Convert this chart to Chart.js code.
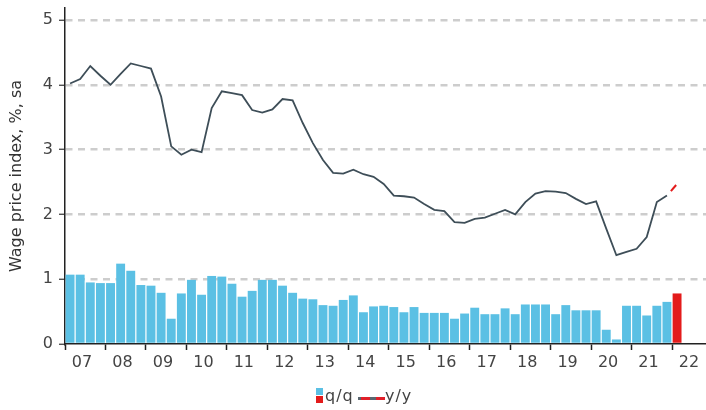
<!DOCTYPE html>
<html>
<head>
<meta charset="utf-8">
<script src="https://cdn.jsdelivr.net/npm/chart.js@4/dist/chart.umd.min.js"></script>
<style>
  body{margin:0;background:#fff;}
  #wrap{position:relative;width:706px;height:410px;}
  #legend{position:absolute;left:316px;top:388px;font:16px "DejaVu Sans",sans-serif;color:#444;letter-spacing:1px;line-height:16px;white-space:nowrap;}
  #legend .sq{position:absolute;left:0;top:0;width:7px;height:16px;}
  #legend .sq i{display:block;width:7px;height:7px;}
  #legend .t1{position:absolute;left:9px;top:0;}
  #legend .ln{position:absolute;left:42px;top:9px;width:27px;height:3px;background:#5a6770;}
  #legend .ln i{position:absolute;top:0;height:3px;width:9px;background:#e0202a;}
  #legend .t2{position:absolute;left:69px;top:0;}
</style>
</head>
<body>
<div id="wrap">
  <canvas id="c" width="706" height="410"></canvas>
  <div id="legend">
    <span class="sq"><i style="background:#5bc0e4"></i><i style="background:#e31b1b;margin-top:1px"></i></span>
    <span class="t1">q/q</span>
    <span class="ln"><i style="left:3px"></i><i style="left:18px"></i></span>
    <span class="t2">y/y</span>
  </div>
</div>
<script>
// quarters 2007Q1 .. 2021Q4, latest (red) 2022Q1
const startYear = 2007;
const tickYears = [2007,2008,2009,2010,2011,2012,2013,2014,2015,2016,2017,2018,2019,2020,2021,2022];
const yTicks = [0,1,2,3,4,5];

// wage price index, % q/q
const qq = [1.07,1.07,0.95,0.94, 0.94,1.24,1.13,0.91, 0.90,0.79,0.39,0.78, 0.99,0.76,1.05,1.04,
            0.93,0.73,0.82,0.99, 0.99,0.90,0.79,0.70, 0.69,0.60,0.59,0.68, 0.75,0.49,0.58,0.59,
            0.57,0.49,0.57,0.48, 0.48,0.48,0.39,0.47, 0.56,0.46,0.46,0.55, 0.46,0.61,0.61,0.61,
            0.46,0.60,0.52,0.52, 0.52,0.22,0.07,0.59, 0.59,0.44,0.59,0.65];
const qqLatest = 0.78;

// wage price index, % y/y
const yy = [4.02,4.09,4.29,4.14, 4.00,4.17,4.33,4.29, 4.25,3.82,3.05,2.92, 3.00,2.96,3.64,3.90,
            3.87,3.84,3.61,3.57, 3.62,3.78,3.76,3.41, 3.10,2.84,2.64,2.63, 2.69,2.62,2.58,2.47,
            2.29,2.28,2.26,2.16, 2.07,2.05,1.88,1.87, 1.93,1.95,2.01,2.07, 2.00,2.19,2.32,2.36,
            2.35,2.33,2.24,2.16, 2.20,1.78,1.37,1.42, 1.47,1.65,2.19,2.29];
const yyLatest = 2.47;

const BLUE = "#5bc0e4", RED = "#e31b1b", LINE = "#3e4e58";
const FONT = "DejaVu Sans";

// quarter index -> position on the year axis (centre of the quarter)
const qx = i => startYear + (i + 0.5) / 4;

const barData = qq.concat([qqLatest]).map((v,i)=>({x:qx(i), y:v}));
const barColors = barData.map((d,i)=> i < qq.length ? BLUE : RED);
const lineData = yy.map((v,i)=>({x:qx(i), y:v}));
const lastData = [{x:qx(yy.length-1), y:yy[yy.length-1]}, {x:qx(yy.length), y:yyLatest}];

new Chart(document.getElementById("c"), {
  data:{
    datasets:[
      {type:"line", data:lineData, borderColor:LINE, borderWidth:1.8, pointRadius:0, tension:0, order:0},
      {type:"line", data:lastData, borderColor:RED, borderWidth:2, borderDash:[8,6], borderDashOffset:8, pointRadius:0, order:0},
      {type:"bar", data:barData, backgroundColor:barColors, borderWidth:0, barPercentage:0.88, categoryPercentage:1, order:1}
    ]
  },
  options:{
    responsive:false,
    animation:false,
    events:[],
    layout:{padding:{top:8,right:0,bottom:0,left:0}},
    plugins:{legend:{display:false}, tooltip:{enabled:false}},
    scales:{
      x:{
        type:"linear", min:2007, max:2022.84, offset:false,
        afterBuildTicks: s => { s.ticks = tickYears.map(v=>({value:v})); },
        afterFit: s => { s.height = 66; s.paddingLeft = 0; s.paddingRight = 0; },
        grid:{offset:false, drawOnChartArea:false, tickLength:6, tickColor:"#222", tickWidth:1.5},
        border:{color:"#222", width:1.5},
        ticks:{autoSkip:false, maxRotation:0, labelOffset:17, padding:3, color:"#444",
               font:{family:FONT, size:16}, callback: v => String(v).slice(2)}
      },
      y:{
        min:0, max:5.185,
        afterBuildTicks: s => { s.ticks = yTicks.map(v=>({value:v})); },
        afterFit: s => { s.width = 65; s.paddingTop = 0; s.paddingBottom = 0; },
        grid:{color: c => c.tick && c.tick.value === 0 ? "rgba(0,0,0,0)" : "#cdcdcd",
              lineWidth:2.5, tickLength:6, tickColor:"#333", tickWidth:1.2},
        border:{color:"#222", width:1.5, dash:[7,5.5]},
        ticks:{padding:6, color:"#444", font:{family:FONT, size:16}},
        title:{display:true, text:"Wage price index, %, sa", color:"#333",
               font:{family:FONT, size:16}, padding:{top:7, bottom:0}}
      }
    }
  }
});
</script>
</body>
</html>
